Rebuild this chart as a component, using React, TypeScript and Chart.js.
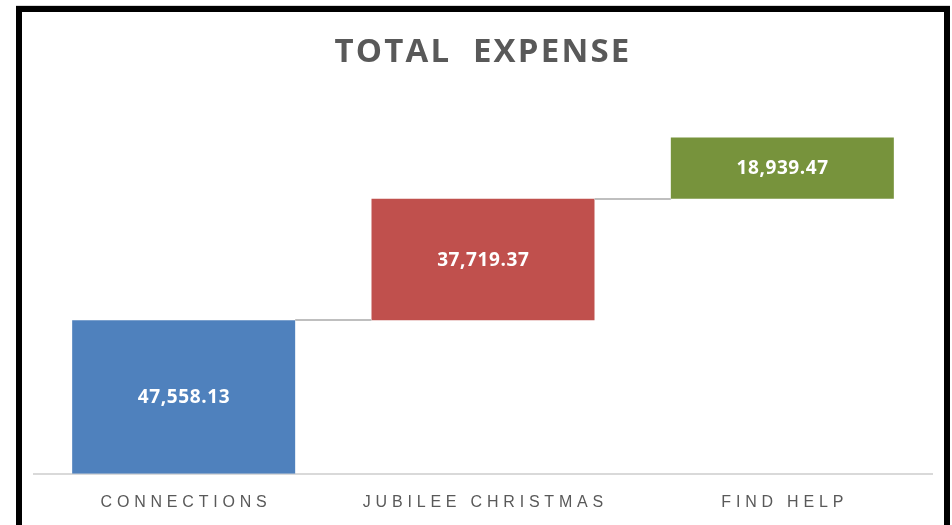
import React, { useEffect, useRef } from "react";
import { Chart, registerables } from "chart.js";

Chart.register(...registerables);

const categories = ["CONNECTIONS", "JUBILEE CHRISTMAS", "FIND HELP"];
const values = [47558.13, 37719.37, 18939.47];
const barColors = ["#4f81bd", "#c0504d", "#77933c"];
const chartTitle = "TOTAL  EXPENSE";
const yMax = 120000;

function fmt(v: number) {
  return v.toLocaleString("en-US", { minimumFractionDigits: 2, maximumFractionDigits: 2 });
}

export default function App() {
  const ref = useRef<HTMLCanvasElement | null>(null);

  useEffect(() => {
    document.body.style.margin = "0";
    const canvas = ref.current!;
    let cum = 0;
    const ranges = values.map((v) => {
      const r = [cum, cum + v];
      cum += v;
      return r;
    });

    const framePlugin = {
      id: "frame",
      beforeDraw(chart: any) {
        const ctx = chart.ctx;
        ctx.save();
        ctx.fillStyle = "#ffffff";
        ctx.fillRect(0, 0, chart.width, chart.height);
        ctx.fillStyle = "#d9d9d9";
        ctx.fillRect(16, 5, 934, 1);
        ctx.fillStyle = "#000000";
        ctx.fillRect(16, 6, 934, 6);
        ctx.fillRect(16, 6, 6, chart.height);
        ctx.fillRect(944, 6, 6, chart.height);
        ctx.restore();
        (ctx as any).letterSpacing = "2.2px";
      },
      afterDatasetsDraw(chart: any) {
        const ctx = chart.ctx;
        const meta = chart.getDatasetMeta(0);
        ctx.save();
        (ctx as any).letterSpacing = "0px";
        // connectors
        ctx.strokeStyle = "#bfbfbf";
        ctx.lineWidth = 2;
        for (let i = 0; i < meta.data.length - 1; i++) {
          const a = meta.data[i];
          const b = meta.data[i + 1];
          const y = Math.round(chart.scales.y.getPixelForValue(ranges[i][1]));
          ctx.beginPath();
          ctx.moveTo(a.x + a.width / 2, y);
          ctx.lineTo(b.x - b.width / 2, y);
          ctx.stroke();
        }
        // value labels
        ctx.fillStyle = "#ffffff";
        ctx.font = "bold 19px 'Open Sans'";
        ctx.textAlign = "left";
        ctx.textBaseline = "middle";
        const ls = 0.6;
        (ctx as any).letterSpacing = ls + "px";
        meta.data.forEach((el: any, i: number) => {
          const yc = (el.y + el.base) / 2;
          const t = fmt(values[i]);
          const w = ctx.measureText(t).width - ls;
          ctx.fillText(t, el.x - w / 2, yc + 1);
        });
        ctx.restore();
      },
      afterDraw(chart: any) {
        const ctx = chart.ctx;
        const xs = chart.scales.x;
        ctx.save();
        ctx.fillStyle = "#595959";
        ctx.font = "16px 'Liberation Sans'";
        ctx.textAlign = "left";
        ctx.textBaseline = "middle";
        const sp = 4.8;
        (ctx as any).letterSpacing = sp + "px";
        categories.forEach((c, i) => {
          const w = ctx.measureText(c).width - sp;
          const x = xs.getPixelForValue(i);
          ctx.fillText(c, x - w / 2, 503);
        });
        ctx.restore();
        (ctx as any).letterSpacing = "0px";
      },
    };

    const chart = new Chart(canvas, {
      type: "bar",
      data: {
        labels: categories,
        datasets: [
          {
            data: ranges as any,
            backgroundColor: barColors,
            borderWidth: 0,
            barPercentage: 0.745,
            categoryPercentage: 1,
          },
        ],
      },
      options: {
        animation: false,
        responsive: false,
        maintainAspectRatio: false,
        layout: { padding: { left: 34, right: 20, top: 0, bottom: 0 } },
        plugins: {
          legend: { display: false },
          tooltip: { enabled: false },
          title: {
            display: true,
            text: chartTitle,
            color: "#595959",
            font: { family: "'Open Sans'", size: 33, weight: "bold" },
            padding: { top: 33, bottom: 14 },
          },
        },
        scales: {
          x: {
            grid: { display: false, drawTicks: false },
            border: { display: true, color: "#d9d9d9", width: 2 },
            ticks: { color: "rgba(0,0,0,0)", font: { size: 16 }, padding: 16 },
          },
          y: { display: false, min: 0, max: yMax },
        },
      },
      plugins: [framePlugin],
    });
    return () => chart.destroy();
  }, []);

  return <canvas ref={ref} width={952} height={525} style={{ display: "block", width: 952, height: 525 }} />;
}
